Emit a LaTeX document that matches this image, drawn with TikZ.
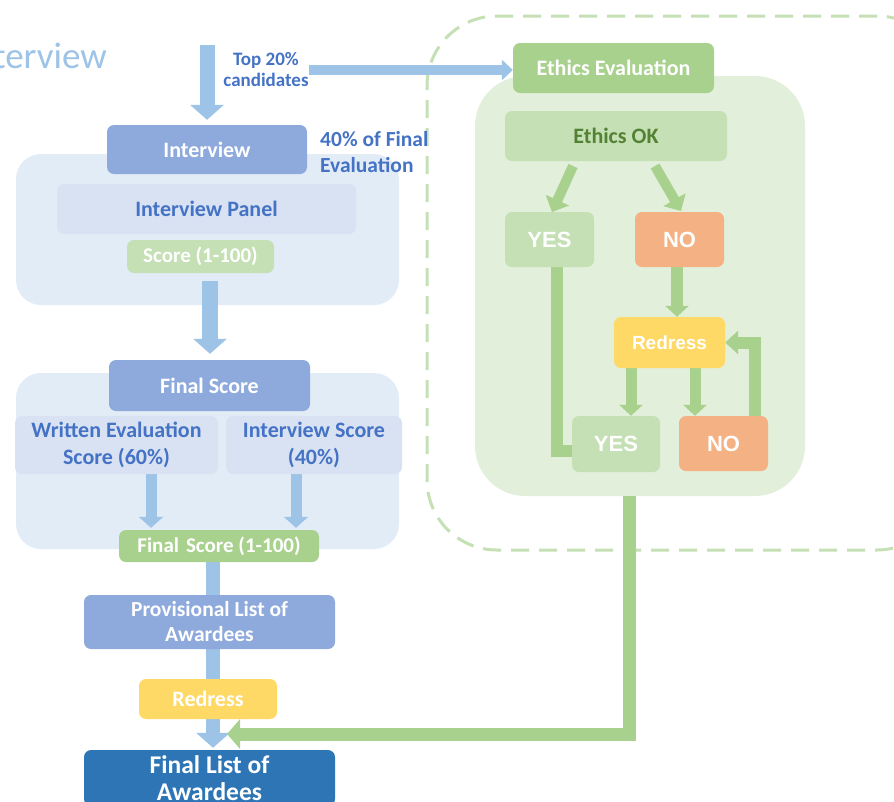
\documentclass[tikz,border=0pt]{standalone}
\usepackage{fontspec}
\setmainfont{Carlito}
\newfontfamily\arialf{Liberation Sans}
\usetikzlibrary{arrows.meta,calc}
\definecolor{contblue}{HTML}{E2ECF7}
\definecolor{panelblue}{HTML}{D9E2F3}
\definecolor{midblue}{HTML}{8EA9DB}
\definecolor{arrowblue}{HTML}{9DC3E6}
\definecolor{textblue}{HTML}{4472C4}
\definecolor{darkblue}{HTML}{2E75B6}
\definecolor{greenbox}{HTML}{A9D18E}
\definecolor{lgreen}{HTML}{C5E0B4}
\definecolor{contgreen}{HTML}{E2EFDA}
\definecolor{orangebox}{HTML}{F4B183}
\definecolor{yellowbox}{HTML}{FFD966}
\definecolor{darkgreen}{HTML}{548235}
\pgfdeclarelayer{bg}
\pgfdeclarelayer{mid}
\pgfsetlayers{bg,mid,main}
\tikzset{
  box/.style={rounded corners=7pt, inner sep=0pt, align=center, text=white,
    font=\bfseries\fontsize{22}{27}\selectfont},
  bluebox/.style={box, fill=midblue},
  panelbox/.style={box, fill=panelblue, text=textblue},
  greenb/.style={box, fill=greenbox},
  lgreenb/.style={box, fill=lgreen},
  arialbox/.style={box, font=\arialf\bfseries\fontsize{22}{26}\selectfont},
  cont/.style={rounded corners=25pt, inner sep=0pt},
  barrow/.style={draw=arrowblue, line width=15pt, -{Triangle[width=33pt,length=15pt]}},
  bsarrow/.style={draw=arrowblue, line width=11pt, -{Triangle[width=24pt,length=11pt]}},
  bharrow/.style={draw=arrowblue, line width=10pt, -{Triangle[width=20pt,length=11pt]}},
  garrowL/.style={draw=greenbox, line width=13pt, -{Triangle[width=29pt,length=13pt]}},
  gsarrow/.style={draw=greenbox, line width=11pt, -{Triangle[width=23pt,length=11pt]}},
  gline/.style={draw=greenbox, line width=12pt, line join=miter},
}
\begin{document}
\begin{tikzpicture}[x=1pt,y=-1pt]
\useasboundingbox (0,0) rectangle (894,801);

% containers
\begin{pgfonlayer}{bg}
\node[cont, fill=contblue, minimum width=383pt, minimum height=151pt] (icont) at (207.5,229.5) {};
\node[cont, fill=contblue, minimum width=383pt, minimum height=176pt] (fcont) at (207.5,461) {};
\node[rounded corners=70pt, draw=lgreen, line width=3pt, dash pattern=on 18pt off 10pt,
      minimum width=520pt, minimum height=534pt, inner sep=0pt] (frame) at (687,283) {};
\node[rounded corners=50pt, fill=contgreen, minimum width=330pt, minimum height=420pt, inner sep=0pt] (gcont) at (640,286) {};
\end{pgfonlayer}

% left column
\node[font=\fontsize{37}{40}\selectfont, text=arrowblue, anchor=base east, inner sep=0pt] (title) at (107,68) {Interview};
\node[font=\bfseries\fontsize{19}{21}\selectfont, text=textblue, align=center, inner sep=0pt] (top20) at (266,70) {Top 20\%\\candidates};
\node[bluebox, minimum width=200pt, minimum height=49pt] (interview) at (207,149.5) {Interview};
\node[font=\bfseries\fontsize{21.5}{26}\selectfont, text=textblue, align=left, anchor=west, inner sep=0pt] (forty) at (320,152) {40\% of Final\\Evaluation};
\node[panelbox, minimum width=299pt, minimum height=50pt] (panel) at (206.5,209) {Interview Panel};
\node[lgreenb, minimum width=147pt, minimum height=33pt, font=\bfseries\fontsize{21}{25}\selectfont] (score1) at (200.5,256.5) {Score (1-100)};
\node[bluebox, minimum width=201pt, minimum height=51pt] (final) at (209.5,385.5) {Final Score};
\node[panelbox, minimum width=203pt, minimum height=58pt] (written) at (116.5,445) {Written Evaluation\\Score (60\%)};
\node[panelbox, minimum width=176pt, minimum height=58pt] (iscore) at (314,445) {Interview Score\\(40\%)};
\node[greenb, minimum width=200pt, minimum height=32pt, font=\bfseries\fontsize{21}{25}\selectfont] (fs100) at (219,546) {Final\,\,Score (1-100)};
\node[bluebox, minimum width=251pt, minimum height=54pt, font=\bfseries\fontsize{21.5}{25}\selectfont] (prov) at (209.5,622) {Provisional List of\\Awardees};
\node[box, fill=yellowbox, minimum width=138pt, minimum height=40pt] (redress1) at (208,699) {Redress};
\node[box, fill=darkblue, minimum width=251pt, minimum height=56pt, font=\bfseries\fontsize{25.5}{26.5}\selectfont] (flist) at (209.5,778) {Final List of\\Awardees};

% right column
\node[greenb, minimum width=201pt, minimum height=50pt] (ethics) at (613.5,68) {Ethics Evaluation};
\node[lgreenb, text=darkgreen, minimum width=222pt, minimum height=50pt] (eok) at (616,136) {Ethics OK};
\node[arialbox, fill=lgreen, minimum width=89pt, minimum height=55pt] (yes1) at (549.5,239.5) {YES};
\node[arialbox, fill=orangebox, minimum width=89pt, minimum height=55pt] (no1) at (679.5,239.5) {NO};
\node[arialbox, fill=yellowbox, minimum width=111pt, minimum height=51pt, font=\arialf\bfseries\fontsize{19}{22}\selectfont] (redress2) at (669.5,342.5) {Redress};
\node[arialbox, fill=lgreen, minimum width=88pt, minimum height=56pt] (yes2) at (616,444) {YES};
\node[arialbox, fill=orangebox, minimum width=89pt, minimum height=55pt] (no2) at (723.5,443.5) {NO};

% connectors
\begin{pgfonlayer}{mid}
\coordinate (c1) at (207,45);
\draw[barrow, shorten >=5pt] (c1) -- (c1 |- interview.north);
\draw[bharrow] (top20.east) -- (top20.east -| ethics.west);
\coordinate (c2) at (210,281);
\draw[barrow, line width=16pt, shorten >=6pt] (c2) -- (c2 |- final.north);
\coordinate (w1) at (151,474);
\draw[bsarrow, shorten >=2pt] (w1) -- (w1 |- fs100.north);
\coordinate (w2) at (296,474);
\draw[bsarrow, shorten >=2pt] (w2) -- (w2 |- fs100.north);
\coordinate (v1) at (213,562);
\draw[barrow, line width=14pt, shorten >=2pt] (v1) -- (v1 |- flist.north);
\coordinate (g1) at (629,496);
\coordinate (gt) at (227,734);
\draw[garrowL] (g1) |- (gt);
\coordinate (d1s) at (573,166);
\coordinate (d1e) at (552,212);
\draw[gsarrow, line width=10pt, -{Triangle[width=25pt,length=13pt]}] (d1s) -- (d1e);
\coordinate (d2s) at (655,166);
\coordinate (d2e) at (681,211);
\draw[gsarrow, line width=10pt, -{Triangle[width=25pt,length=13pt]}] (d2s) -- (d2e);
\coordinate (y1a) at (557,267);
\coordinate (y1b) at (572,451);
\draw[gline] (y1a) |- (y1b);
\coordinate (n1) at (677,267);
\draw[gsarrow, line width=12pt] (n1) -- (n1 |- redress2.north);
\coordinate (r1) at (631,368);
\draw[gsarrow] (r1) -- (r1 |- yes2.north);
\coordinate (r2) at (695,368);
\draw[gsarrow] (r2) -- (r2 |- no2.north);
\coordinate (l1) at (755,416);
\draw[gsarrow, line width=12pt, -{Triangle[width=23pt,length=13pt]}] (l1) |- (redress2.east);
\end{pgfonlayer}
\end{tikzpicture}
\end{document}
